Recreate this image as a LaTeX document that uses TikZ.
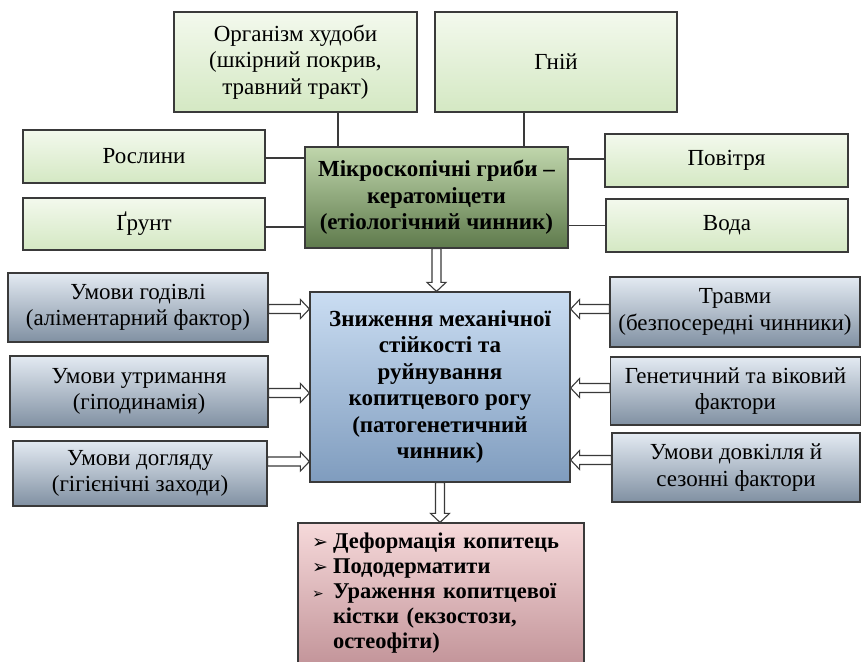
\documentclass[tikz,border=0pt]{standalone}
\usepackage{fontspec}
\setmainfont{Liberation Serif}
\newfontfamily\dejavu{DejaVu Sans}
\usetikzlibrary{calc}
\definecolor{greenT}{HTML}{F3F9ED}
\definecolor{greenB}{HTML}{D4E8C3}
\definecolor{gcT}{HTML}{C0D6AC}
\definecolor{gcB}{HTML}{5E7A4C}
\definecolor{blueT}{HTML}{E3EAF2}
\definecolor{blueB}{HTML}{8090A2}
\definecolor{bcT}{HTML}{CADDF2}
\definecolor{bcB}{HTML}{7F9CBE}
\definecolor{redT}{HTML}{F6D9DA}
\definecolor{redB}{HTML}{C3959A}
\definecolor{lineC}{HTML}{3A3A3A}
\newcommand{\txt}{\fontsize{23}{26.5}\selectfont}
\newcommand{\bul}{\makebox[21pt][l]{\dejavu\fontsize{19}{25}\selectfont ➢}}
\newcommand{\bulsm}{\makebox[21pt][l]{\dejavu\fontsize{14}{25}\selectfont ➢}}
\newcommand{\hollow}[2]{%
  \coordinate (ha) at (#1);
  \coordinate (ht) at (#2);
  \coordinate (hb) at ($(ht)!9pt!(ha)$);
  \draw[hollowarrow] ($(ha)!4.5pt!90:(ht)$) -- ($(hb)!4.5pt!-90:(ha)$) -- ($(hb)!9.5pt!-90:(ha)$) -- (ht) -- ($(hb)!9.5pt!90:(ha)$) -- ($(hb)!4.5pt!90:(ha)$) -- ($(ha)!4.5pt!-90:(ht)$) -- cycle;}
\tikzset{
  box/.style={draw=lineC, line width=1.2pt, inner sep=2pt, align=center, font=\txt, text=black},
  greenbox/.style={box, top color=greenT, bottom color=greenB},
  gcbox/.style={box, top color=gcT, bottom color=gcB, font=\txt\bfseries},
  bluebox/.style={box, top color=blueT, bottom color=blueB},
  bcbox/.style={box, top color=bcT, bottom color=bcB, font=\txt\bfseries},
  redbox/.style={box, top color=redT, bottom color=redB, font=\fontsize{22.5}{25}\selectfont\bfseries, align=left},
  conn/.style={draw=lineC, line width=1.2pt},
  hollowarrow/.style={draw=lineC, line width=1.1pt, fill=white, line join=miter},
}
\begin{document}
\begin{tikzpicture}[x=1pt, y=-1pt]
\useasboundingbox (0,0) rectangle (861,661);
\fill[white] (0,0) rectangle (861,661);
% top group
\node[greenbox, minimum width=243, minimum height=100] (org) at (295.5,62) {Організм худоби\\(шкірний покрив,\\травний тракт)};
\node[greenbox, minimum width=242, minimum height=100] (gnii) at (556,62) {Гній};
\node[greenbox, minimum width=242, minimum height=53] (rosl) at (144,156.5) {Рослини};
\node[greenbox, minimum width=242, minimum height=52] (grunt) at (144,224) {Ґрунт};
\node[gcbox, minimum width=263, minimum height=101] (gc) at (436.5,197.5) {Мікроскопічні гриби –\\кератоміцети\\(етіологічний чинник)};
\node[greenbox, minimum width=243, minimum height=53] (povitr) at (726.5,160.5) {Повітря};
\node[greenbox, minimum width=242, minimum height=53] (voda) at (727,225.5) {Вода};
% middle group
\node[bluebox, minimum width=260, minimum height=69] (hod) at (138,307.5) {Умови годівлі\\(аліментарний фактор)};
\node[bluebox, minimum width=258, minimum height=71] (utr) at (139,391.5) {Умови утримання\\(гіподинамія)};
\node[bluebox, minimum width=254, minimum height=65] (dogl) at (140,473.5) {Умови догляду\\(гігієнічні заходи)};
\node[bluebox, minimum width=250, minimum height=70] (trav) at (735,312) {Травми\\(безпосередні чинники)};
\node[bluebox, minimum width=250, minimum height=68] (gen) at (735.5,391) {Генетичний та віковий\\фактори};
\node[bluebox, minimum width=248, minimum height=69] (dovk) at (736,467.5) {Умови довкілля й\\сезонні фактори};
\node[bcbox, minimum width=260, minimum height=190] (bc) at (440,387) {Зниження механічної\\стійкості та\\руйнування\\копитцевого рогу\\(патогенетичний\\чинник)};
% bottom
\node[redbox, minimum width=286, minimum height=141, text width=258pt, inner xsep=14pt] (red) at (441,593.5) {\bul Деформація копитець\\\bul Пододерматити\\\bulsm Ураження копитцевої\\\hspace*{21pt}кістки (екзостози,\\\hspace*{21pt}остеофіти)};
% connectors
\coordinate (c1) at ([xshift=42.5pt]org.south);
\draw[conn] (c1) -- (c1 |- gc.north);
\coordinate (c2) at ([xshift=-32pt]gnii.south);
\draw[conn] (c2) -- (c2 |- gc.north);
\coordinate (c3) at ([yshift=-1.5pt]rosl.east);
\draw[conn] (c3) -- (c3 -| gc.west);
\coordinate (c4) at ([yshift=-3pt]grunt.east);
\draw[conn] (c4) -- (c4 -| gc.west);
\coordinate (c5) at ([yshift=1.5pt]povitr.west);
\draw[conn] (c5) -- (c5 -| gc.east);
\draw[conn] (voda.west) -- (voda.west -| gc.east);
% hollow arrows
\hollow{gc.south}{gc.south |- bc.north}
\coordinate (a1) at ([yshift=-1.5pt]hod.east);
\hollow{a1}{a1 -| bc.west}
\coordinate (a2) at ([yshift=-1.5pt]utr.east);
\hollow{a2}{a2 -| bc.west}
\coordinate (a3) at ([yshift=12pt]dogl.east);
\hollow{a3}{a3 -| bc.west}
\coordinate (a4) at ([yshift=3pt]trav.west);
\hollow{a4}{a4 -| bc.east}
\coordinate (a5) at ([yshift=3pt]gen.west);
\hollow{a5}{a5 -| bc.east}
\coordinate (a6) at ([yshift=7.5pt]dovk.west);
\hollow{a6}{a6 -| bc.east}
\hollow{bc.south}{bc.south |- red.north}
\end{tikzpicture}
\end{document}
